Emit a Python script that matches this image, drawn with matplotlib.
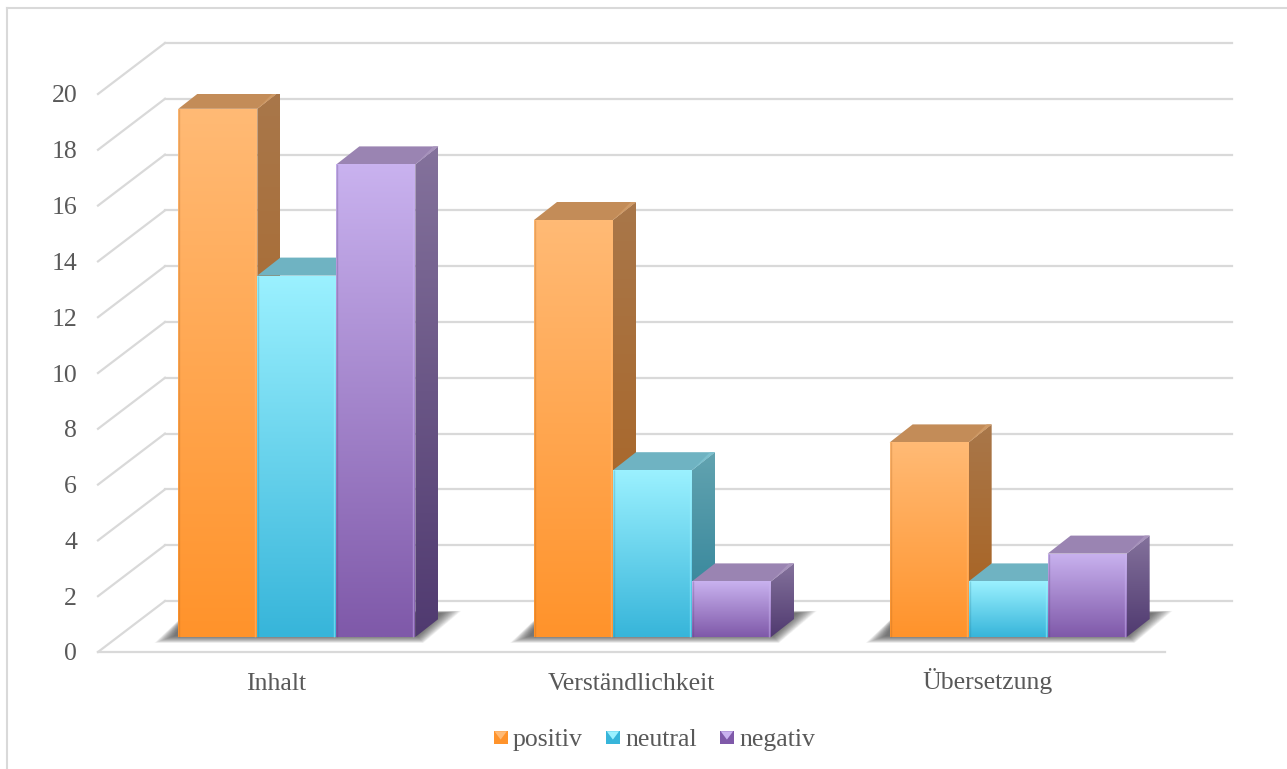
import numpy as np
import matplotlib
matplotlib.use('Agg')
import matplotlib.pyplot as plt
from matplotlib.colors import to_rgb
from matplotlib.lines import Line2D
from matplotlib.legend_handler import HandlerBase
from matplotlib.patches import Patch, Polygon, Rectangle

categories = ['Inhalt', 'Verständlichkeit', 'Übersetzung']
series_names = ['positiv', 'neutral', 'negativ']
positiv = [19, 15, 7]
neutral = [13, 6, 2]
negativ = [17, 2, 3]
y_ticks = [0, 2, 4, 6, 8, 10, 12, 14, 16, 18, 20]

W, H = 1287, 769
AX_LEFT, AX_RIGHT, AX_BOTTOM, AX_TOP = 98, 1165, 652, 94
PX_X = (AX_RIGHT - AX_LEFT) / 3
PX_Y = (AX_BOTTOM - AX_TOP) / 20

# depth of the fake 3d box, in data units
WALL_DX, WALL_DY = 67 / PX_X, 51 / PX_Y
BAR_X0, BAR_Y0 = 21 / PX_X, 15 / PX_Y
BAR_DX, BAR_DY = 23 / PX_X, 18 / PX_Y
BAR_W = 79 / PX_X
BAR_SCALE = 27.8 / PX_Y

# front top, front bottom, side top, side bottom, top face, highlight
colors = {
    'positiv': ['#FFBA75', '#FF932B', '#A8774A', '#A9601C', '#C38C58', '#CF9A66'],
    'neutral': ['#9BF1FF', '#37B5DA', '#62A3B0', '#2B7F96', '#6FB3C2', '#7CC0CE'],
    'negativ': ['#C9B2EF', '#7F59A9', '#84729C', '#503A70', '#9A84B2', '#A793BC'],
}
GRID = '#D9D9D9'
TEXT = '#595959'
FONT = 'Liberation Serif'
FONT_SIZE = 18.5


def gradient_poly(ax, verts, top, bottom, z):
    verts = np.array(verts)
    ramp = np.linspace(0, 1, 128)[:, None, None]
    img = (1 - ramp) * np.array(to_rgb(top)) + ramp * np.array(to_rgb(bottom))
    x0, x1 = verts[:, 0].min(), verts[:, 0].max()
    y0, y1 = verts[:, 1].min(), verts[:, 1].max()
    im = ax.imshow(img, extent=(x0, x1, y0, y1), origin='upper', aspect='auto',
                   interpolation='bilinear', zorder=z)
    im.set_clip_path(Polygon(verts, transform=ax.transData))


def floor_shadow(ax, x, w, z):
    # soft shadow, stacked see-through polygons from wide to narrow
    y = BAR_Y0
    layers = 30
    for i in range(layers):
        e = 1 - i / (layers - 1)
        ex, ey = e * 20 / PX_X, e * 7 / PX_Y
        pts = [(x - 4 / PX_X - ex, y + 1 / PX_Y - ey),
               (x + w + 2 / PX_X + ex * 0.3, y + 1 / PX_Y - ey),
               (x + w + 26 / PX_X + ex, y + 24 / PX_Y + ey * 0.3),
               (x + 10 / PX_X, y + 24 / PX_Y + ey * 0.3)]
        ax.add_patch(Polygon(pts, closed=True, fc='#303030', ec='none', alpha=0.03,
                             zorder=z, clip_on=False))


def draw_bar(ax, x, v, cols, z):
    y0, y1 = BAR_Y0, BAR_Y0 + v * BAR_SCALE
    x1 = x + BAR_W
    gradient_poly(ax, [(x1, y0), (x1 + BAR_DX, y0 + BAR_DY), (x1 + BAR_DX, y1 + BAR_DY), (x1, y1)],
                  cols[2], cols[3], z)
    ax.add_patch(Polygon([(x, y1), (x1, y1), (x1 + BAR_DX, y1 + BAR_DY), (x + BAR_DX, y1 + BAR_DY)],
                         closed=True, fc=cols[4], ec='none', zorder=z))
    # lighter sliver where the top meets the side
    ax.add_patch(Polygon([(x1, y1), (x1 + BAR_DX, y1 + BAR_DY), (x1 - 5 / PX_X + BAR_DX, y1 + BAR_DY)],
                         closed=True, fc=cols[5], ec='none', zorder=z))
    gradient_poly(ax, [(x, y0), (x1, y0), (x1, y1), (x, y1)], cols[0], cols[1], z)
    ax.plot([x + 1 / PX_X] * 2, [y0, y1], color=cols[3], lw=1.0, alpha=0.25, zorder=z, solid_capstyle='butt')
    ax.plot([x1 - 2 / PX_X] * 2, [y0, y1], color=cols[0], lw=1.0, alpha=0.5, zorder=z, solid_capstyle='butt')


class BevelHandler(HandlerBase):
    def create_artists(self, legend, orig, xd, yd, width, height, fontsize, trans):
        s = 10
        x0 = (width - s) / 2 - xd
        y0 = (height - s) / 2 - yd
        base = Rectangle((x0, y0), s, s, fc=orig.get_facecolor(), ec='none', transform=trans)
        tri = Polygon([(x0 + 0.5, y0 + s - 0.5), (x0 + s - 0.5, y0 + s - 0.5), (x0 + s / 2, y0 + s * 0.35)],
                      closed=True, fc=orig.get_edgecolor(), ec='none', transform=trans)
        return [base, tri]


fig = plt.figure(figsize=(W / 100, H / 100), dpi=100)
ax = fig.add_axes([AX_LEFT / W, 1 - AX_BOTTOM / H, (AX_RIGHT - AX_LEFT) / W, (AX_BOTTOM - AX_TOP) / H])
ax.patch.set_alpha(0)

# chart border, only left and top reach the picture
fig.add_artist(Line2D([7 / W, 7 / W], [0, 1 - 8 / H], color=GRID, lw=1.5))
fig.add_artist(Line2D([7 / W, 1], [1 - 8 / H, 1 - 8 / H], color=GRID, lw=1.5))

# walls
for t in y_ticks:
    ax.plot([-0.5 + WALL_DX, 2.5 + WALL_DX], [t + WALL_DY, t + WALL_DY], color=GRID, lw=1.6,
            clip_on=False, zorder=1)
    ax.plot([-0.5, -0.5 + WALL_DX], [t, t + WALL_DY], color=GRID, lw=1.6, clip_on=False, zorder=1)
ax.plot([-0.5, 2.5], [0, 0], color=GRID, lw=1.6, clip_on=False, zorder=1)

n = len(series_names)
for i in range(len(categories)):
    start = i - 1.5 * BAR_W + BAR_X0
    floor_shadow(ax, start, n * BAR_W, 2)
    for j, vals in enumerate([positiv, neutral, negativ]):
        draw_bar(ax, start + j * BAR_W, vals[i], colors[series_names[j]], 3 + j)

ax.set_xlim(-0.5, 2.5)
ax.set_ylim(0, 20)
ax.set_xticks(range(len(categories)))
ax.set_xticklabels(categories, fontsize=FONT_SIZE, color=TEXT, family=FONT, va='baseline')
ax.set_yticks(y_ticks)
ax.set_yticklabels([str(t) for t in y_ticks], fontsize=FONT_SIZE, color=TEXT, family=FONT)
ax.tick_params(axis='both', length=0)
ax.tick_params(axis='x', pad=27)
ax.tick_params(axis='y', pad=15)
for s in ax.spines.values():
    s.set_visible(False)

handles = [Patch(fc=colors[s][1], ec=colors[s][0], label=s) for s in series_names]
fig.legend(handles=handles, labels=series_names, loc='center', bbox_to_anchor=(653 / W, 1 - 740 / H),
           ncol=3, frameon=False, handler_map={Patch: BevelHandler()},
           prop={'family': FONT, 'size': FONT_SIZE}, labelcolor=TEXT,
           handlelength=0.75, handletextpad=0.1, columnspacing=0.8)

fig.savefig('out.png', dpi=100)
